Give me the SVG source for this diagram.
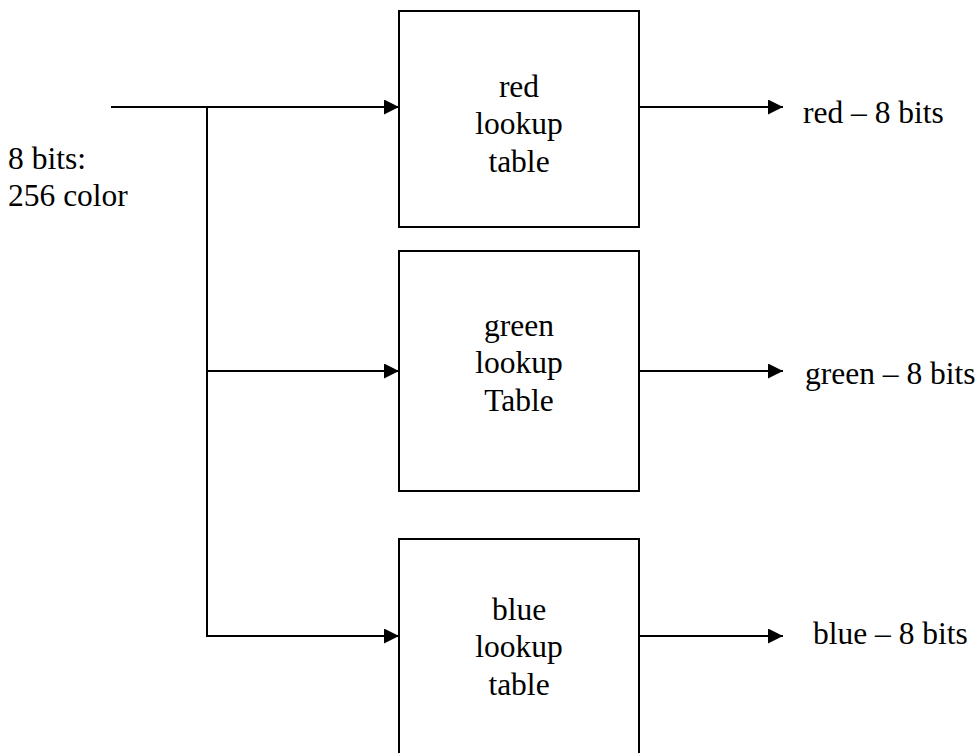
<svg xmlns="http://www.w3.org/2000/svg" width="978" height="753" viewBox="0 0 978 753">
<defs>
<style>
.box{fill:#fff;stroke:#000;stroke-width:2}
.ln{fill:none;stroke:#000;stroke-width:2}
.t{font-family:'Liberation Serif','Times New Roman','DejaVu Serif',serif;font-size:31.5px;fill:#000}
.c{text-anchor:middle}
</style>
<marker id="ah" markerUnits="userSpaceOnUse" markerWidth="16" markerHeight="16" refX="15" refY="7.5" orient="auto">
<path d="M0,0 L15,7.5 L0,15 Z" fill="#000"/>
</marker>
</defs>
<rect width="978" height="753" fill="#fff"/>
<g id="input-label" class="t" font-family="Liberation Serif, serif">
<text x="8" y="169">8 bits:</text>
<text x="8" y="206">256 color</text>
</g>
<g id="red-lut" class="t" font-family="Liberation Serif, serif">
<rect class="box" x="399" y="11" width="240" height="216"/>
<text class="c" x="519" y="97">red</text>
<text class="c" x="519" y="134">lookup</text>
<text class="c" x="519" y="172">table</text>
</g>
<g id="green-lut" class="t" font-family="Liberation Serif, serif">
<rect class="box" x="399" y="251" width="240" height="240"/>
<text class="c" x="519" y="336">green</text>
<text class="c" x="519" y="373">lookup</text>
<text class="c" x="519" y="411">Table</text>
</g>
<g id="blue-lut" class="t" font-family="Liberation Serif, serif">
<rect class="box" x="399" y="539" width="240" height="230"/>
<text class="c" x="519" y="620">blue</text>
<text class="c" x="519" y="657">lookup</text>
<text class="c" x="519" y="695">table</text>
</g>
<g id="out-labels" class="t" font-family="Liberation Serif, serif">
<text x="803" y="123">red – 8 bits</text>
<text x="805" y="384">green – 8 bits</text>
<text x="813" y="644">blue – 8 bits</text>
</g>
<g id="connectors">
<path class="ln" d="M111,107 H399" marker-end="url(#ah)"/>
<path class="ln" d="M207,107 V636 H399" marker-end="url(#ah)"/>
<path class="ln" d="M207,371 H399" marker-end="url(#ah)"/>
<path class="ln" d="M640,107 H783" marker-end="url(#ah)"/>
<path class="ln" d="M640,371 H783" marker-end="url(#ah)"/>
<path class="ln" d="M640,636 H783" marker-end="url(#ah)"/>
</g>
</svg>
